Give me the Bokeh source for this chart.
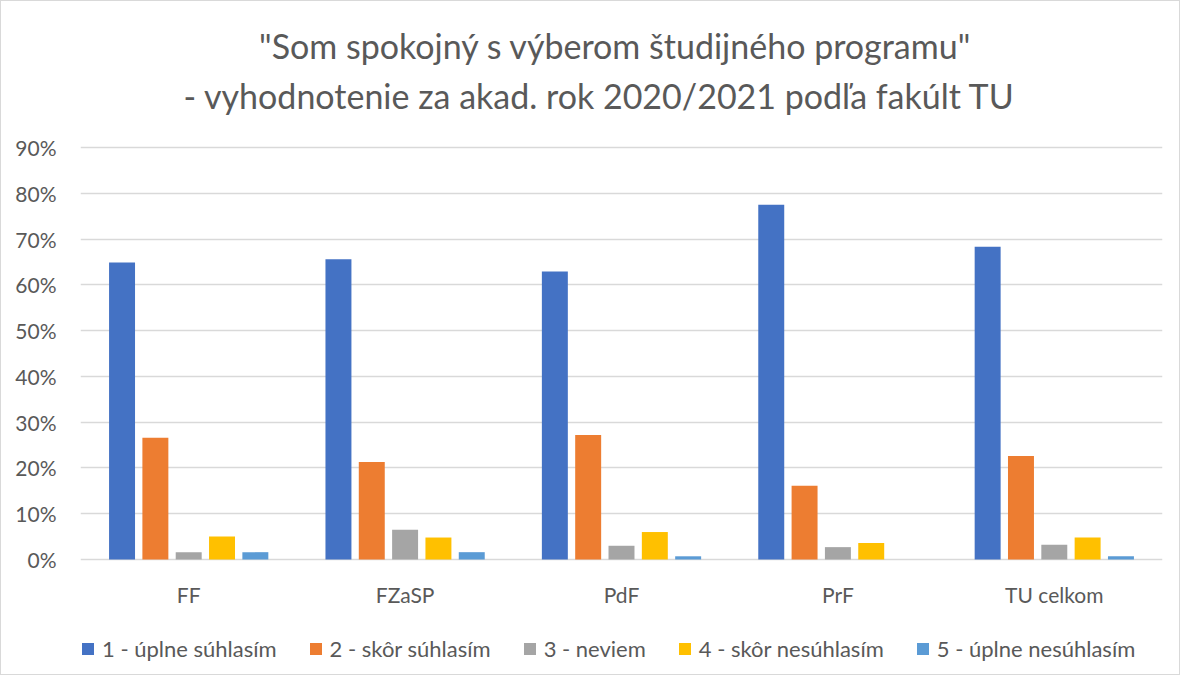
from bokeh.plotting import figure
from bokeh.models import (ColumnDataSource, Range1d, FactorRange, Legend, LegendItem,
                          NumeralTickFormatter, FixedTicker)
from bokeh.transform import dodge
from bokeh.core.properties import value
from bokeh.embed import file_html
from bokeh.resources import INLINE

categories = ["FF", "FZaSP", "PdF", "PrF", "TU celkom"]
series_names = ["1 - úplne súhlasím", "2 - skôr súhlasím", "3 - neviem",
                "4 - skôr nesúhlasím", "5 - úplne nesúhlasím"]
s1 = [0.649, 0.656, 0.629, 0.775, 0.683]
s2 = [0.266, 0.213, 0.272, 0.161, 0.226]
s3 = [0.016, 0.065, 0.030, 0.027, 0.032]
s4 = [0.050, 0.048, 0.060, 0.036, 0.048]
s5 = [0.016, 0.016, 0.007, 0.000, 0.007]
colors = ["#4472C4", "#ED7D31", "#A5A5A5", "#FFC000", "#5B9BD5"]
y_ticks = [0.0, 0.1, 0.2, 0.3, 0.4, 0.5, 0.6, 0.7, 0.8, 0.9]
title_line1 = '"Som spokojný s výberom študijného programu"'
title_line2 = "- vyhodnotenie za akad. rok 2020/2021 podľa fakúlt TU"

FONT = "Lato"
TXT = "#595959"

H = 675          # figure height (px)
ZERO = 558       # pixel row of the 0 % line, from the top
PX = 0.9 / 412.0 # value per pixel

source = ColumnDataSource(dict(cat=categories, s1=s1, s2=s2, s3=s3, s4=s4, s5=s5,
                               label_y=[-35 * PX] * len(categories)))

p = figure(x_range=FactorRange(*categories, range_padding=0.0),
           y_range=Range1d(-(H - ZERO) * PX, ZERO * PX),
           width=1180, height=H, output_backend="svg", toolbar_location=None,
           x_axis_location=None,
           min_border_left=79, min_border_right=19, min_border_bottom=0,
           min_border_top=0,
           styles={"border": "1px solid #d9d9d9"})

step = 0.154
width = 0.12
items = []
for i, (key, name, col) in enumerate(zip(["s1", "s2", "s3", "s4", "s5"], series_names, colors)):
    r = p.vbar(x=dodge("cat", (i - 2) * step, range=p.x_range), top=key, bottom=0,
               width=width, source=source, fill_color=col, line_color=None)
    items.append(LegendItem(label=name, renderers=[r]))

# category labels
p.text(x="cat", y="label_y", text="cat", source=source, text_align="center",
       text_baseline="middle", text_font=value(FONT), text_font_size="21px",
       text_color=TXT)

# two-line title
mid = categories[2]
p.text(x=[mid], y=[(ZERO - 44) * PX], text=[title_line1], x_offset=-6,
       text_align="center", text_baseline="middle", text_font=value(FONT),
       text_font_size="34px", text_color=TXT)
p.text(x=[mid], y=[(ZERO - 94) * PX], text=[title_line2], x_offset=-22,
       text_align="center", text_baseline="middle", text_font=value(FONT),
       text_font_size="34px", text_color=TXT)

legend = Legend(items=items, orientation="horizontal", location=(0, 14),
                label_text_font=FONT, label_text_font_size="22px", label_text_color=TXT,
                glyph_width=15, glyph_height=15, label_standoff=7, spacing=31,
                border_line_color=None, background_fill_alpha=0, margin=0, padding=0)
p.add_layout(legend, "center")

p.outline_line_color = None
p.background_fill_color = "white"
p.border_fill_color = "white"

p.yaxis.ticker = FixedTicker(ticks=y_ticks)
p.yaxis.formatter = NumeralTickFormatter(format="0%")
p.yaxis.axis_line_color = None
p.yaxis.major_tick_line_color = None
p.yaxis.minor_tick_line_color = None
p.yaxis.major_label_text_font = FONT
p.yaxis.major_label_text_font_size = "21px"
p.yaxis.major_label_text_color = TXT
p.yaxis.major_label_standoff = 18

p.xgrid.grid_line_color = None
p.ygrid.grid_line_color = "#d9d9d9"
p.ygrid.grid_line_width = 1.3

open("out.html", "w").write(file_html(p, INLINE))
